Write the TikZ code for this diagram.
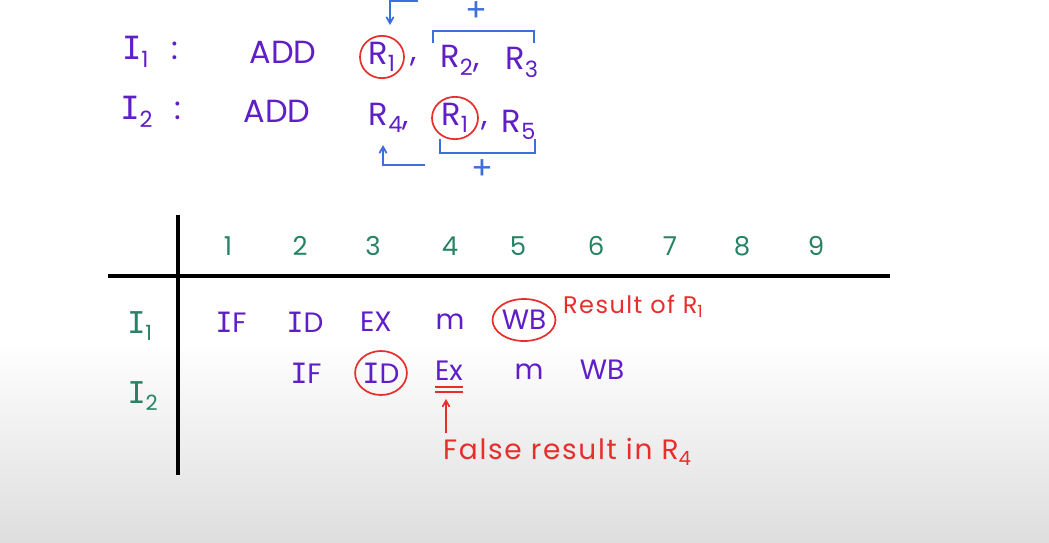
\documentclass[tikz,border=0pt]{standalone}
\usepackage{fontspec}
\setmainfont{Poppins}
\newfontfamily\barfont{DejaVu Sans Mono}
\newcommand{\barI}{{\barfont I}}
\usepackage{xcolor}
\usepackage{tikz}
\usetikzlibrary{positioning,arrows,shapes.geometric}
\definecolor{inkpurple}{RGB}{95,30,200}
\definecolor{inkteal}{RGB}{40,130,100}
\definecolor{inkred}{RGB}{232,45,45}
\definecolor{inkblue}{RGB}{60,110,220}
\definecolor{bggray}{RGB}{222,222,222}

\begin{document}
\begin{tikzpicture}[x=1pt,y=-1pt,>=angle 60,
		ins/.style={text=inkpurple,font=\fontsize{32}{38}\selectfont,inner sep=0pt},
		stage/.style={text=inkpurple,font=\fontsize{28}{32}\selectfont,inner sep=0pt},
		num/.style={text=inkteal,font=\fontsize{26}{30}\selectfont,inner sep=0pt},
		note/.style={text=inkred,font=\fontsize{24}{28}\selectfont\addfontfeature{LetterSpace=6},inner sep=0pt},
		ring/.style={draw=inkred,line width=1.7pt,ellipse,inner sep=0pt,minimum width=#1},
		ring/.default=44pt,
		blueink/.style={draw=inkblue,line width=1.8pt},
		redink/.style={draw=inkred,line width=1.7pt},
		rule/.style={draw=black,line width=3.5pt}]
				\useasboundingbox (0,0) rectangle (1049,542);
				% background
				\fill[white] (0,0) rectangle (1049,542);
				\shade[top color=white,bottom color=bggray] (0,340) rectangle (1049,542);
				% instructions
				\node[ins] (i1lbl) at (150,52) {\barI\textsubscript{1}\hspace{22pt}:};
				\node[ins] (add1) at (283,52) {ADD};
				\node[ins,ring,minimum height=42pt] (r1a) at (382,57) {R\textsubscript{1}};
				\node[ins] (c1) at (414,62) {,};
				\node[ins] (r2) at (460,60) {R\textsubscript{2},};
				\node[ins] (r3) at (522,62) {R\textsubscript{3}};
				\node[ins] (i2lbl) at (151,112) {\barI\textsubscript{2}\hspace{22pt}:};
				\node[ins] (add2) at (277,111) {ADD};
				\node[ins] (r4) at (389,118) {R\textsubscript{4},};
				\node[ins,ring=46pt,minimum height=40pt] (r1b) at (455,118) {R\textsubscript{1}};
				\node[ins] (c2) at (485,126) {,};
				\node[ins] (r5) at (519,125) {R\textsubscript{5}};
				% operand brackets
				\coordinate (up1L) at (433,43);
				\coordinate (up1R) at (534,43);
				\draw[blueink] (up1L) -- ++(0,-12) -| (up1R);
				\node[ins,text=inkblue] (plus1) at (476,12) {+};
				\coordinate (dn2L) at (440,139);
				\coordinate (dn2R) at (535,139);
				\draw[blueink] (dn2L) -- ++(0,14) -| (dn2R);
				\node[ins,text=inkblue] (plus2) at (482,170) {+};
				% destination arrows
				\coordinate (fb1) at (418,1);
				\draw[blueink,->] (fb1) -| ([xshift=8pt,yshift=10pt]r1a.north);
				\coordinate (fb2) at (425,165);
				\draw[blueink,->] (fb2) -| ([xshift=-6pt,yshift=-12pt]r4.south);
				% table rules
				\draw[rule] (178,215) -- (178,475);
				\draw[rule] (108,276) -- (890,276);
				% clock cycles
				\foreach \i/\x in {1/228,2/300,3/373,4/450,5/518,6/596,7/670,8/742,9/816}{
					\node[num] (n\i) at (\x,246) {\i};
				}
				% row labels
				\node[num,font=\fontsize{30}{34}\selectfont] (row1) at (140,326) {\barI\textsubscript{1}};
				\node[num,font=\fontsize{30}{34}\selectfont] (row2) at (143,396) {\barI\textsubscript{2}};
				% I1 stages
				\foreach \s/\x/\nm in {\barI F/231/a,\barI D/305/b,EX/376/c,m/450/d}{
					\node[stage] (\nm1) at (\x,322) {\s};
				}
				\node[stage,ring=52pt,minimum height=42pt] (wb1) at (524,320) {WB};
				\node[note,anchor=west] (res1) at (563,306) {Result of R\textsubscript{1}};
				% I2 stages
				\node[stage] (a2) at (306,373) {\barI F};
				\node[stage,ring=50pt,minimum height=44pt] (b2) at (381,373) {\barI D};
				\node[stage] (c2x) at (449,371) {Ex};
				\node[stage] (d2) at (529,372) {m};
				\node[stage] (e2) at (602,370) {WB};
				\draw[redink] ([yshift=-6pt]c2x.south west) -- ([yshift=-6pt]c2x.south east);
				\draw[redink] ([yshift=-11pt]c2x.south west) -- ([yshift=-11pt]c2x.south east);
				% false result
				\node[note,font=\fontsize{28}{32}\selectfont\addfontfeature{LetterSpace=6},anchor=west] (fals) at (443,452) {False result in R\textsubscript{4}};
				\draw[redink,->] ([xshift=3pt,yshift=5pt]fals.north west) -- ([xshift=-3pt,yshift=-18pt]c2x.south);
			\end{tikzpicture}
\end{document}
